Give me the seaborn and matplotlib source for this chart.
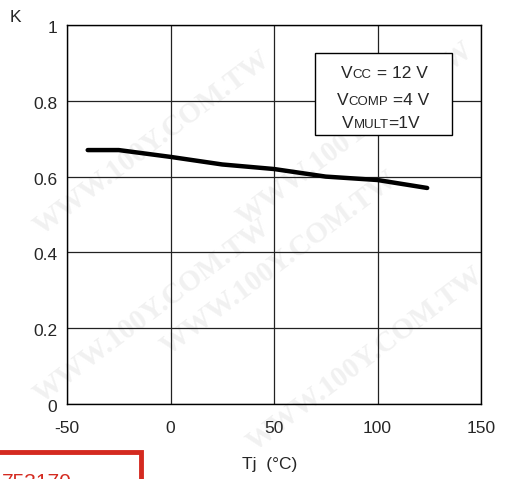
import numpy as np
import pandas as pd
import seaborn as sns
from matplotlib import pyplot as plt
from matplotlib import transforms
from matplotlib.patches import Rectangle

# K vs junction temperature
tj = [-40, -25, 0, 25, 50, 75, 100, 124]
k = [0.670, 0.670, 0.652, 0.632, 0.620, 0.600, 0.591, 0.570]
xticks = [-50, 0, 50, 100, 150]
yticks = [0, 0.2, 0.4, 0.6, 0.8, 1]
ytick_labels = ['0', '0.2', '0.4', '0.6', '0.8', '1']

sns.set_style('white')
plt.rcParams['font.family'] = ['Liberation Sans', 'DejaVu Sans']
plt.rcParams['axes.unicode_minus'] = False

df = pd.DataFrame({'Tj': tj, 'K': k})

fig = plt.figure(figsize=(5.08, 4.79), dpi=100)
ax = fig.add_axes([67 / 508, 1 - 404 / 479, 414 / 508, 379 / 479])
ax.patch.set_alpha(0)

# faint diagonal watermark behind everything
for x0, y0 in [(0.30, 0.70), (0.55, 0.45), (0.30, 0.35), (0.70, 0.72),
               (0.72, 0.25)]:
    fig.text(x0, y0, 'WWW.100Y.COM.TW', family='Liberation Serif',
             weight='bold', fontsize=21, color='#f1f1f1', rotation=37,
             ha='center', va='center', zorder=-5)

sns.lineplot(data=df, x='Tj', y='K', color='black', linewidth=3.2, ax=ax,
             zorder=4)

ax.set_xlim(-50, 150)
ax.set_ylim(0, 1)
ax.set_xticks(xticks)
ax.set_yticks(yticks)
ax.set_yticklabels(ytick_labels)
ax.grid(True, color='#222222', linewidth=0.9)
for s in ax.spines.values():
    s.set_color('black')
    s.set_linewidth(1.0)
ax.tick_params(length=0, labelsize=12.5)
ax.tick_params(axis='x', pad=12)
ax.tick_params(axis='y', pad=7)
shift = transforms.ScaledTranslation(0, -3.5 / 100, fig.dpi_scale_trans)
for lab in ax.get_yticklabels():
    lab.set_verticalalignment('center')
    lab.set_transform(lab.get_transform() + shift)
ax.set_xlabel('')
ax.set_ylabel('')

fig.text(15 / 508, 1 - 18 / 479, 'K', fontsize=12.5, ha='center', va='center')
fig.text(242 / 508, 1 - 465 / 479, 'Tj  (°C)', fontsize=12.5, ha='left',
         va='center')

# condition box
ax.add_patch(Rectangle((0.599, 0.710), 0.331, 0.216, transform=ax.transAxes,
                       facecolor='white', edgecolor='black', linewidth=1.0,
                       zorder=5))
rows = [('V', 'CC', ' = 12 V', 0.662, 0.860),
        ('V', 'COMP', ' =4 V', 0.652, 0.789),
        ('V', 'MULT', '=1V', 0.664, 0.728)]
for big, small, tail, xx, yy in rows:
    t1 = ax.text(xx, yy, big, transform=ax.transAxes, fontsize=12.5,
                 va='baseline', ha='left', zorder=6)
    t2 = ax.annotate(small, xy=(1, 0), xycoords=t1, fontsize=9.5,
                     va='bottom', ha='left', zorder=6)
    ax.annotate(tail, xy=(1, 0), xycoords=t2, fontsize=12.5, va='bottom',
                ha='left', zorder=6)

# red box fragment at the bottom-left corner
fig.patches.append(Rectangle((-0.01, -0.05), 141 / 508 + 0.01,
                             27 / 479 + 0.05, transform=fig.transFigure,
                             fill=False, edgecolor='#d42a20', linewidth=3.5))
fig.text(2 / 508, 1 - 473 / 479, '753170', fontsize=15, color='#d42a20',
         ha='left', va='top')

fig.savefig('out.png', dpi=100)
